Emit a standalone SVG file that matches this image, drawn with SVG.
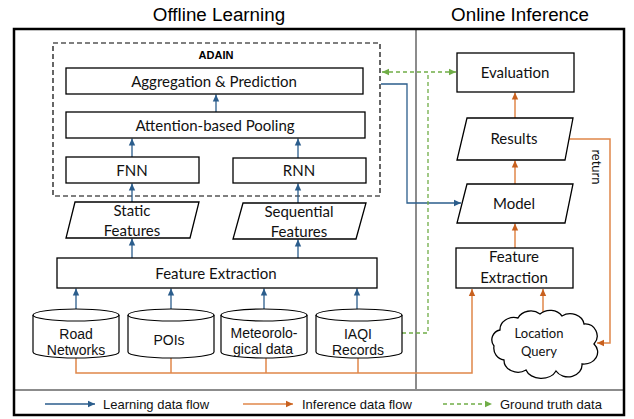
<svg xmlns="http://www.w3.org/2000/svg" width="634" height="419" viewBox="0 0 634 419">
  <defs>
    <style>
      .box { fill: #fff; stroke: #000; stroke-width: 1.3; }
      .db { fill: #fff; stroke: #000; stroke-width: 1.2; }
      .t { font-family: Lato, "Open Sans", sans-serif; font-size: 15px; fill: #111; text-anchor: middle; }
      .ts { font-size: 13px; }
      .a { font-family: "Liberation Sans", Arial, sans-serif; font-size: 14px; fill: #111; text-anchor: middle; }
      .title { font-family: "Liberation Sans", Arial, sans-serif; font-size: 18.8px; fill: #000; text-anchor: middle; }
      .leg { font-family: "Liberation Sans", Arial, sans-serif; font-size: 13px; fill: #111; }
      .learn { fill: none; stroke: #2b5d8c; stroke-width: 1.3; }
      .infer { fill: none; stroke: #e0874a; stroke-width: 1.5; }
      .truth { fill: none; stroke: #70ad47; stroke-width: 1.3; stroke-dasharray: 4 3; }
    </style>
    <marker id="ab" markerWidth="8" markerHeight="8" refX="7" refY="4" orient="auto" markerUnits="userSpaceOnUse">
      <path d="M0,0.8 L7,4 L0,7.2 Z" fill="#2b5d8c"/>
    </marker>
    <marker id="ao" markerWidth="8" markerHeight="8" refX="7" refY="4" orient="auto" markerUnits="userSpaceOnUse">
      <path d="M0,0.8 L7,4 L0,7.2 Z" fill="#c8601e"/>
    </marker>
    <marker id="ag" markerWidth="8" markerHeight="8" refX="7" refY="4" orient="auto-start-reverse" markerUnits="userSpaceOnUse">
      <path d="M0,0.8 L7,4 L0,7.2 Z" fill="#70ad47"/>
    </marker>
  </defs>

  <rect width="634" height="419" fill="#fff"/>

  <!-- section titles -->
  <text class="title" x="219" y="21">Offline Learning</text>
  <text class="title" x="520" y="21">Online Inference</text>

  <!-- frame and dividers -->
  <g id="frame">
    <line x1="416" y1="29" x2="416" y2="390" stroke="#8c8c8c" stroke-width="2"/>
    <line x1="14" y1="390" x2="624" y2="390" stroke="#8c8c8c" stroke-width="2"/>
    <rect x="14" y="29" width="610" height="386" fill="none" stroke="#000" stroke-width="2.5"/>
  </g>

  <!-- ADAIN model boundary -->
  <g id="adain">
    <rect x="53" y="43" width="327" height="153" fill="none" stroke="#000" stroke-width="1.2" stroke-dasharray="5 3"/>
    <text x="216" y="59" font-family="'Liberation Sans', Arial, sans-serif" font-size="11" font-weight="bold" text-anchor="middle">ADAIN</text>
  </g>

  <!-- connectors -->
  <g id="connectors">
    <!-- learning flow -->
    <line class="learn" x1="216" y1="112" x2="216" y2="94.5" marker-end="url(#ab)"/>
    <line class="learn" x1="132" y1="157" x2="132" y2="138.5" marker-end="url(#ab)"/>
    <line class="learn" x1="298" y1="158" x2="298" y2="138.5" marker-end="url(#ab)"/>
    <line class="learn" x1="132" y1="202" x2="132" y2="183.5" marker-end="url(#ab)"/>
    <line class="learn" x1="298" y1="203" x2="298" y2="183.5" marker-end="url(#ab)"/>
    <line class="learn" x1="132" y1="258" x2="132" y2="238.5" marker-end="url(#ab)"/>
    <line class="learn" x1="298" y1="258" x2="298" y2="239.5" marker-end="url(#ab)"/>
    <line class="learn" x1="76" y1="309" x2="76" y2="288.5" marker-end="url(#ab)"/>
    <line class="learn" x1="171" y1="309" x2="171" y2="288.5" marker-end="url(#ab)"/>
    <line class="learn" x1="264" y1="309" x2="264" y2="288.5" marker-end="url(#ab)"/>
    <line class="learn" x1="357" y1="309" x2="357" y2="288.5" marker-end="url(#ab)"/>
    <polyline class="learn" points="381,84 407,84 407,203 461,203" marker-end="url(#ab)"/>

    <!-- inference flow -->
    <polyline class="infer" points="76,358 76,373 472,373 472,289" marker-end="url(#ao)"/>
    <line class="infer" x1="171" y1="358" x2="171" y2="373"/>
    <line class="infer" x1="266" y1="358" x2="266" y2="373"/>
    <line class="infer" x1="358" y1="358" x2="358" y2="373"/>
    <line class="infer" x1="543" y1="314" x2="543" y2="289" marker-end="url(#ao)"/>
    <line class="infer" x1="515" y1="248" x2="515" y2="223.5" marker-end="url(#ao)"/>
    <line class="infer" x1="515" y1="184" x2="515" y2="160.5" marker-end="url(#ao)"/>
    <line class="infer" x1="515" y1="118" x2="515" y2="92.5" marker-end="url(#ao)"/>
    <polyline class="infer" points="569,139 610,139 610,343 597,343" marker-end="url(#ao)"/>
    <text x="595" y="167" transform="rotate(90 595 167)" font-family="Lato, 'Open Sans', sans-serif" font-size="13" fill="#111" text-anchor="middle" dominant-baseline="middle">return</text>

    <!-- ground truth -->
    <polyline class="truth" points="402,333 428,333 428,72"/>
    <line class="truth" x1="382" y1="72" x2="456" y2="72" marker-start="url(#ag)" marker-end="url(#ag)"/>
  </g>

  <!-- offline nodes -->
  <g id="aggregation">
    <rect class="box" x="66" y="68" width="297" height="26"/>
    <text class="t" x="214" y="86.5">Aggregation &amp; Prediction</text>
  </g>
  <g id="pooling">
    <rect class="box" x="66" y="112" width="299" height="26"/>
    <text class="t" x="215" y="130.5">Attention-based Pooling</text>
  </g>
  <g id="fnn">
    <rect class="box" x="66" y="157" width="133" height="26"/>
    <text class="t" x="132" y="175.5">FNN</text>
  </g>
  <g id="rnn">
    <rect class="box" x="233" y="158" width="133" height="25"/>
    <text class="t" x="299" y="176">RNN</text>
  </g>
  <g id="static-features">
    <polygon class="box" points="75,202 199,202 190,238 66,238"/>
    <text class="t" x="132" y="216">Static</text>
    <text class="t" x="132" y="236">Features</text>
  </g>
  <g id="sequential-features">
    <polygon class="box" points="243,203 366,203 356,239 233,239"/>
    <text class="t" x="299" y="217">Sequential</text>
    <text class="t" x="299" y="237">Features</text>
  </g>
  <g id="feature-extraction-offline">
    <rect class="box" x="57" y="258" width="320" height="30"/>
    <text class="t" x="216" y="278.5">Feature Extraction</text>
  </g>

  <!-- data sources -->
  <g id="road-networks">
    <path class="db" d="M33,315 V352 A43,6 0 0 0 119,352 V315"/>
    <ellipse class="db" cx="76" cy="315" rx="43" ry="6"/>
    <text class="a" x="76" y="339">Road</text>
    <text class="a" x="76" y="355">Networks</text>
  </g>
  <g id="pois">
    <path class="db" d="M128,315 V352 A43,6 0 0 0 214,352 V315"/>
    <ellipse class="db" cx="171" cy="315" rx="43" ry="6"/>
    <text class="a" x="169" y="345">POIs</text>
  </g>
  <g id="meteorological">
    <path class="db" d="M221,315 V352 A43,6 0 0 0 307,352 V315"/>
    <ellipse class="db" cx="264" cy="315" rx="43" ry="6"/>
    <text class="a" x="264" y="338">Meteorolo-</text>
    <text class="a" x="263" y="354">gical data</text>
  </g>
  <g id="iaqi-records">
    <path class="db" d="M316,315 V352 A43,6 0 0 0 402,352 V315"/>
    <ellipse class="db" cx="359" cy="315" rx="43" ry="6"/>
    <text class="a" x="358" y="339">IAQI</text>
    <text class="a" x="358" y="355">Records</text>
  </g>

  <!-- online nodes -->
  <g id="evaluation">
    <rect class="box" x="457" y="53" width="117" height="39"/>
    <text class="t" x="515" y="78">Evaluation</text>
  </g>
  <g id="results">
    <polygon class="box" points="467,118 573,118 565,160 457,160"/>
    <text class="t" x="514" y="144">Results</text>
  </g>
  <g id="model">
    <polygon class="box" points="467,184 573,184 565,223 457,223"/>
    <text class="t" x="514" y="209">Model</text>
  </g>
  <g id="feature-extraction-online">
    <rect class="box" x="456" y="248" width="117" height="40"/>
    <text class="t" x="514" y="262">Feature</text>
    <text class="t" x="514" y="283">Extraction</text>
  </g>
  <g id="location-query">
    <path class="box" d="M500,330 A14,12 0 0 1 518,318 A14,12 0 0 1 540,314 A14,12 0 0 1 562,316 A14,12 0 0 1 584,324 A12,12 0 0 1 594,344 A14,12 0 0 1 582,364 A14,12 0 0 1 556,371 A16,12 0 0 1 526,370 A14,12 0 0 1 504,360 A12,12 0 0 1 494,346 A10,10 0 0 1 500,330 Z"/>
    <text class="t ts" x="539" y="338">Location</text>
    <text class="t ts" x="539" y="356">Query</text>
  </g>

  <!-- legend -->
  <g id="legend">
    <line class="learn" x1="45" y1="404" x2="95" y2="404" marker-end="url(#ab)"/>
    <text class="leg" x="103" y="408.5">Learning data flow</text>
    <line class="infer" x1="243" y1="404" x2="293" y2="404" marker-end="url(#ao)"/>
    <text class="leg" x="302" y="408.5">Inference data flow</text>
    <line class="truth" x1="443" y1="404" x2="492" y2="404" marker-end="url(#ag)"/>
    <text class="leg" x="500" y="408.5">Ground truth data</text>
  </g>
</svg>
